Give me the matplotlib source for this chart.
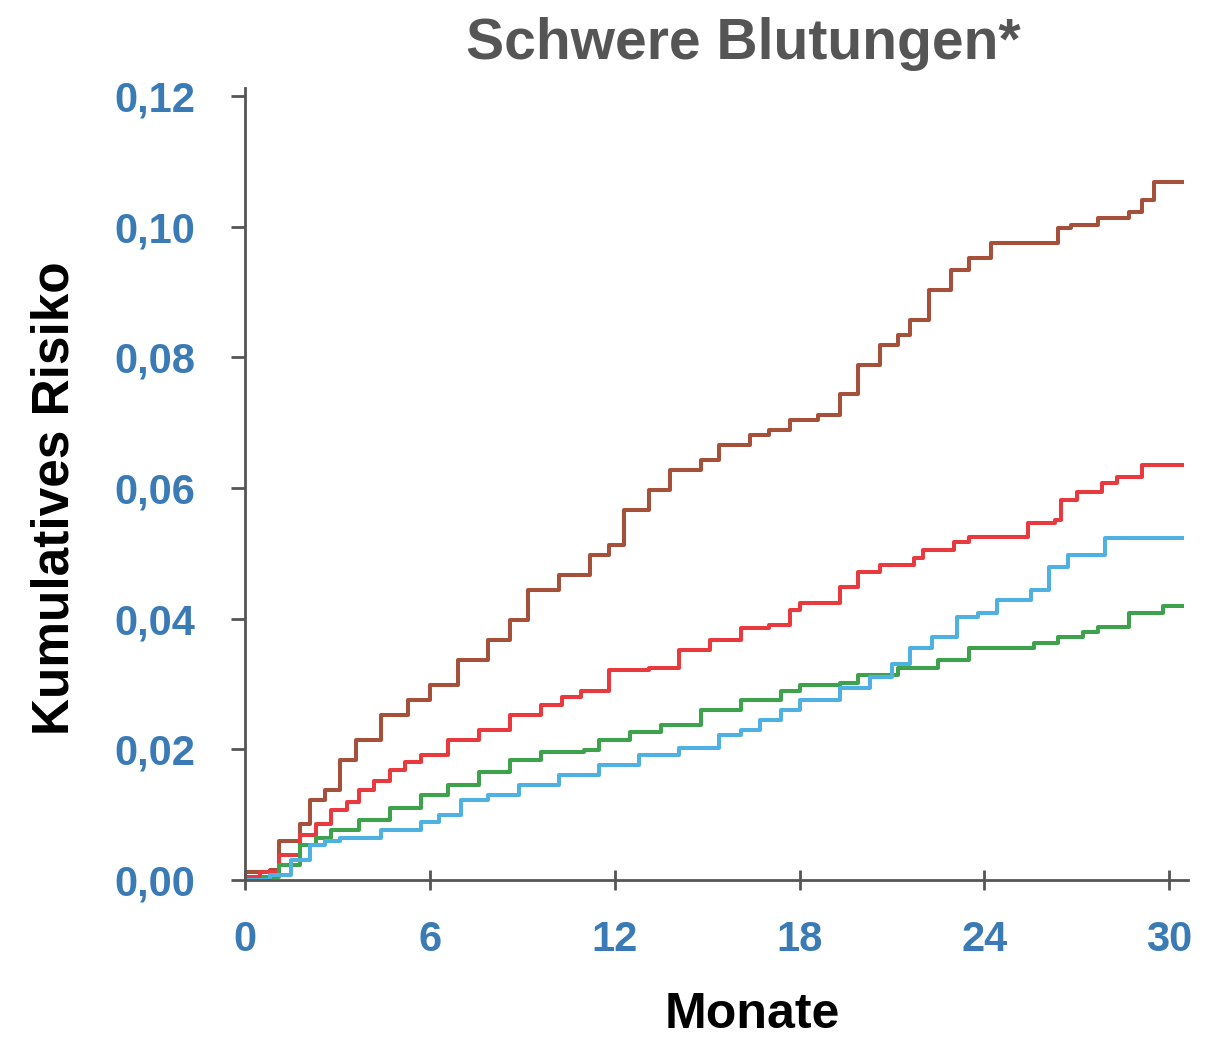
import matplotlib
matplotlib.use('Agg')
import matplotlib.pyplot as plt

# month values and cumulative risk
brown_t = [0, 0.8, 1.1, 1.8, 2.1, 2.6, 3.1, 3.6, 4.4, 5.3, 6.0, 6.9, 7.9, 8.6, 9.2, 10.2, 11.2, 11.8, 12.3, 13.1,
           13.8, 14.8, 15.4, 16.4, 17.0, 17.7, 18.6, 19.3, 19.9, 20.6, 21.2, 21.6, 22.2, 22.9, 23.5, 24.2, 26.4, 26.8,
           27.7, 28.7, 29.1, 29.5, 30.4]
brown_v = [0.0012, 0.0015, 0.006, 0.0085, 0.0122, 0.0138, 0.0184, 0.0214, 0.0253, 0.0276, 0.0299, 0.0337, 0.0368,
           0.0398, 0.0444, 0.0467, 0.0497, 0.0513, 0.0566, 0.0597, 0.0628, 0.0643, 0.0666, 0.0681, 0.0689, 0.0704,
           0.0712, 0.0743, 0.0788, 0.0819, 0.0834, 0.0857, 0.0903, 0.0934, 0.0952, 0.0975, 0.0998, 0.1002, 0.1013,
           0.1022, 0.1040, 0.1068, 0.1068]

red_t = [0, 0.5, 1.1, 1.8, 2.3, 2.8, 3.3, 3.7, 4.2, 4.7, 5.2, 5.7, 6.6, 7.6, 8.6, 9.6, 10.3, 10.9, 11.8, 13.1,
         14.1, 15.1, 16.1, 17.0, 17.7, 18.0, 19.3, 19.9, 20.6, 21.7, 22.0, 23.0, 23.5, 25.4, 26.3, 26.5, 27.0, 27.8,
         28.3, 29.1, 30.4]
red_v = [0.0005, 0.0012, 0.0038, 0.0069, 0.0085, 0.0107, 0.012, 0.0138, 0.0152, 0.0168, 0.018, 0.0191, 0.0214,
         0.023, 0.0253, 0.0268, 0.028, 0.029, 0.0321, 0.0324, 0.0352, 0.0367, 0.0386, 0.039, 0.0413, 0.0424, 0.0449,
         0.0471, 0.0482, 0.0493, 0.0505, 0.0517, 0.0525, 0.0546, 0.0551, 0.0582, 0.0594, 0.0608, 0.0617, 0.0635,
         0.0635]

green_t = [0, 0.6, 1.1, 1.8, 2.3, 2.8, 3.7, 4.7, 5.7, 6.6, 7.6, 8.6, 9.6, 11.0, 11.5, 12.5, 13.5, 14.8, 16.1, 17.4,
           18.0, 19.3, 19.9, 21.2, 22.5, 23.5, 25.6, 26.4, 27.2, 27.7, 28.7, 29.8, 30.4]
green_v = [0.0, 0.0005, 0.0023, 0.0054, 0.0065, 0.0077, 0.0092, 0.011, 0.013, 0.0145, 0.0165, 0.0184, 0.0196,
           0.0199, 0.0214, 0.0227, 0.0237, 0.026, 0.0276, 0.029, 0.0298, 0.0301, 0.0314, 0.0324, 0.0337, 0.0355,
           0.0363, 0.0372, 0.038, 0.0387, 0.0409, 0.0419, 0.0419]

blue_t = [0, 0.8, 1.5, 2.1, 2.6, 3.1, 4.4, 5.7, 6.3, 7.0, 7.9, 8.9, 10.2, 11.5, 12.8, 14.1, 15.4, 16.1, 16.7, 17.4,
          18.0, 19.3, 20.3, 21.0, 21.6, 22.3, 23.1, 23.8, 24.4, 25.5, 26.1, 26.7, 27.9, 30.4]
blue_v = [0.0, 0.0008, 0.003, 0.0054, 0.006, 0.0064, 0.0077, 0.0089, 0.01, 0.0122, 0.013, 0.0145, 0.016, 0.0176,
          0.0191, 0.0202, 0.0222, 0.023, 0.0245, 0.026, 0.0276, 0.0294, 0.031, 0.033, 0.0355, 0.0372, 0.0403, 0.0409,
          0.0429, 0.0444, 0.0479, 0.0497, 0.0523, 0.0523]

x_ticks = [0, 6, 12, 18, 24, 30]
y_ticks = [0.00, 0.02, 0.04, 0.06, 0.08, 0.10, 0.12]
y_ticklabels = ['0,00', '0,02', '0,04', '0,06', '0,08', '0,10', '0,12']

plt.rcParams['font.family'] = ['Liberation Sans', 'DejaVu Sans']

fig = plt.figure(figsize=(12.15, 10.38), dpi=100)
ax = fig.add_axes([0.2016, 0.1522, 0.776, 0.763])

ax.step(brown_t, brown_v, where='post', color='#a4503a', lw=2.9)
ax.step(red_t, red_v, where='post', color='#e8393f', lw=2.9)
ax.step(green_t, green_v, where='post', color='#3ea24c', lw=2.9)
ax.step(blue_t, blue_v, where='post', color='#4eb1e2', lw=2.9)

ax.set_xlim(0, 30.6)
ax.set_ylim(0, 0.1212)
ax.set_xticks(x_ticks)
ax.set_yticks(y_ticks)
ax.set_yticklabels(y_ticklabels)

for s in ['top', 'right']:
    ax.spines[s].set_visible(False)
for s in ['left', 'bottom']:
    ax.spines[s].set_color('#555555')
    ax.spines[s].set_linewidth(2)

ax.tick_params(axis='x', direction='inout', length=14, width=2, color='#555555', pad=22,
               labelsize=30, labelcolor='#3a7bb5')
ax.tick_params(axis='y', direction='out', length=10, width=2, color='#555555', pad=26,
               labelsize=30, labelcolor='#3a7bb5')
for lab in ax.get_xticklabels() + ax.get_yticklabels():
    lab.set_fontweight('bold')

fig.text(0.612, 0.958, 'Schwere Blutungen*', ha='center', va='center', fontsize=41,
         fontweight='bold', color='#555555')
fig.text(0.045, 0.52, 'Kumulatives Risiko', ha='center', va='center', rotation=90,
         fontsize=37, fontweight='bold', color='black')
fig.text(0.619, 0.022, 'Monate', ha='center', va='center', fontsize=36,
         fontweight='bold', color='black')

fig.savefig('out.png', dpi=100)
